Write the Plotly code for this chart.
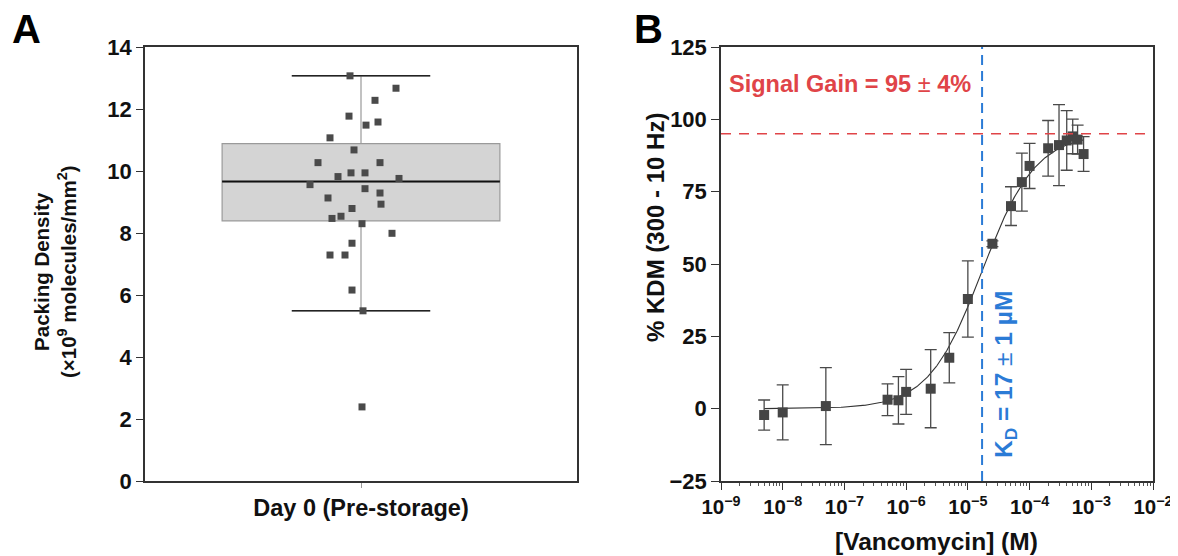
import numpy as np
import plotly.graph_objects as go

# ---------------- Panel A data ----------------
density = [13.07, 12.67, 12.28, 11.77, 11.58, 11.48, 11.07, 10.68, 10.27, 10.27,
           9.82, 9.94, 9.94, 9.76, 9.56, 9.43, 9.13, 9.29, 8.93, 8.79,
           8.47, 8.54, 8.30, 7.99, 7.67, 7.29, 7.29, 6.16, 5.49, 2.39]
jitter = [-11, 35, 14, -12, 17, 5, -31, -7, -43, 19,
          -23, -10, 4, 38, -51, 4, -33, 19, 20, -9,
          -29, -20, 1, 31, -9, -31, -16, -9, 2, 1]
box_q1, box_median, box_q3 = 8.39, 9.66, 10.88
box_low, box_high = 5.49, 13.07
category_label = "Day 0 (Pre-storage)"

# ---------------- Panel B data ----------------
conc = [5e-9, 1e-8, 5e-8, 5e-7, 7.5e-7, 1e-6, 2.5e-6, 5e-6, 1e-5, 2.5e-5,
        5e-5, 7.5e-5, 1e-4, 2e-4, 3e-4, 4e-4, 5e-4, 6e-4, 7.5e-4]
kdm = [-2.2, -1.3, 0.9, 3.1, 2.9, 5.8, 6.9, 17.6, 37.9, 57.0,
       70.0, 78.3, 83.9, 90.0, 91.1, 92.7, 94.1, 93.0, 88.0]
kdm_err = [5.2, 9.5, 13.3, 5.5, 8.2, 7.8, 13.5, 8.7, 13.2, 1.0,
           6.7, 10.0, 7.8, 9.6, 14.0, 10.3, 6.0, 5.0, 6.0]
KD = 17e-6          # fitted dissociation constant (M)
GAIN = 95.0         # fitted signal gain (%)
x_ticks = [1e-9, 1e-8, 1e-7, 1e-6, 1e-5, 1e-4, 1e-3, 1e-2]
x_tick_text = ["10<sup>\u2212%d</sup>" % k for k in range(9, 1, -1)]
y_ticks_b = [-25, 0, 25, 50, 75, 100, 125]

FONT = "Liberation Sans, Arial, sans-serif"
W, H = 1178, 556
OFF = 8  # page body margin

fig = go.Figure()

# ---- Panel A: box ----
fig.add_trace(go.Box(
    x=[0], q1=[box_q1], median=[box_median], q3=[box_q3],
    lowerfence=[box_low], upperfence=[box_high],
    width=0.643, whiskerwidth=0.5,
    fillcolor="#d4d4d4", line=dict(color="#9a9a9a", width=1.2),
    boxpoints=False, showlegend=False, xaxis="x", yaxis="y", hoverinfo="skip"))
# median and whisker caps in black
fig.add_trace(go.Scatter(x=[-0.3215, 0.3215], y=[box_median, box_median], mode="lines",
                         line=dict(color="#111111", width=2), showlegend=False,
                         xaxis="x", yaxis="y"))
for v in (box_low, box_high):
    fig.add_trace(go.Scatter(x=[-0.16, 0.16], y=[v, v], mode="lines",
                             line=dict(color="#222222", width=1.5), showlegend=False,
                             xaxis="x", yaxis="y"))
# points
fig.add_trace(go.Scatter(
    x=[j / 432 for j in jitter], y=density, mode="markers",
    marker=dict(symbol="square", size=7, color="#4a4a4a"),
    showlegend=False, xaxis="x", yaxis="y"))

# ---- Panel B ----
xfit = np.logspace(np.log10(conc[0]), np.log10(conc[-1]), 300)
yfit = GAIN * xfit / (KD + xfit)
fig.add_trace(go.Scatter(x=xfit, y=yfit, mode="lines",
                         line=dict(color="#333333", width=1.1),
                         showlegend=False, xaxis="x2", yaxis="y2"))
fig.add_trace(go.Scatter(
    x=conc, y=kdm, mode="markers",
    marker=dict(symbol="square", size=10, color="#454545"),
    error_y=dict(type="data", array=kdm_err, visible=True,
                 color="#4a4a4a", thickness=1.3, width=6),
    showlegend=False, xaxis="x2", yaxis="y2"))

shapes = [
    dict(type="line", xref="x2 domain", yref="y2", x0=0, x1=1, y0=GAIN, y1=GAIN,
         line=dict(color="#e04448", width=1.6, dash="10px,8px")),
    dict(type="line", xref="x2", yref="y2 domain", x0=KD, x1=KD, y0=0, y1=1,
         line=dict(color="#2b7bd6", width=2, dash="10px,6px")),
]

def tf(size):
    return dict(family=FONT, size=size, color="#111111", weight="bold")

axis_common = dict(showline=True, linecolor="#333333", linewidth=1.5, mirror=True,
                   ticks="outside", showgrid=False, zeroline=False, automargin=False)

def px_x(p):
    return (p - OFF) / W

def px_y(p):
    return 1 - (p - OFF) / H

fig.update_layout(
    width=W, height=H, margin=dict(l=0, r=0, t=0, b=0, autoexpand=False),
    paper_bgcolor="white", plot_bgcolor="white",
    xaxis=dict(domain=[px_x(145), px_x(577)], range=[-0.5, 0.5],
               tickvals=[0], ticktext=[category_label], ticklen=5, tickcolor="#999999",
               tickfont=tf(23.5), **axis_common),
    yaxis=dict(domain=[px_y(481), px_y(47)], range=[0, 14], dtick=2, ticklen=7,
               tickcolor="#333333", tickfont=tf(22), **axis_common),
    xaxis2=dict(domain=[px_x(721), px_x(1153)], type="log", range=[-9, -2],
                tickvals=x_ticks, ticktext=x_tick_text, ticklen=7, tickcolor="#333333",
                tickfont=tf(20.5),
                minor=dict(ticks="outside", ticklen=3, tickcolor="#555555",
                           tickvals=[m * 10.0 ** e for e in range(-9, -2) for m in range(2, 10)]),
                anchor="y2", **axis_common),
    yaxis2=dict(domain=[px_y(481), px_y(47)], range=[-25, 125], tickvals=y_ticks_b,
                ticklen=8, tickcolor="#333333", tickfont=tf(22), anchor="x2", **axis_common),
    shapes=shapes,
    showlegend=False,
)

ann = [
    dict(text="<b>A</b>", x=px_x(26), y=px_y(29), font=dict(size=40, color="#000")),
    dict(text="<b>B</b>", x=px_x(648), y=px_y(29), font=dict(size=40, color="#000")),
    dict(text="<b>Packing Density<br>(\u00d710<sup>9</sup> molecules/mm<sup>2</sup>)</b>",
         x=px_x(55), y=px_y(272), textangle=-90, font=dict(size=20.5, color="#111")),
    dict(text="<b>% KDM (300 - 10 Hz)</b>", x=px_x(655), y=px_y(228), textangle=-90,
         font=dict(size=24, color="#111")),
    dict(text="<b>[Vancomycin] (M)</b>", x=px_x(937), y=px_y(541),
         font=dict(size=24.5, color="#111")),
    dict(text="<b>Signal Gain = 95 </b>\u00b1<b> 4%</b>", x=px_x(727), y=px_y(84), xanchor="left",
         font=dict(size=23.5, color="#e04448")),
    dict(text="<b>K<sub>D</sub> = 17 </b>\u00b1<b> 1 \u00b5M</b>", x=px_x(1005), y=px_y(375),
         textangle=-90, font=dict(size=24.5, color="#2b7bd6")),
]
for a in ann:
    a.setdefault("xanchor", "center")
    a.setdefault("yanchor", "middle")
    a.update(xref="paper", yref="paper", showarrow=False)
    a["font"]["family"] = FONT
fig.update_layout(annotations=ann)

fig.write_html("out.html")
